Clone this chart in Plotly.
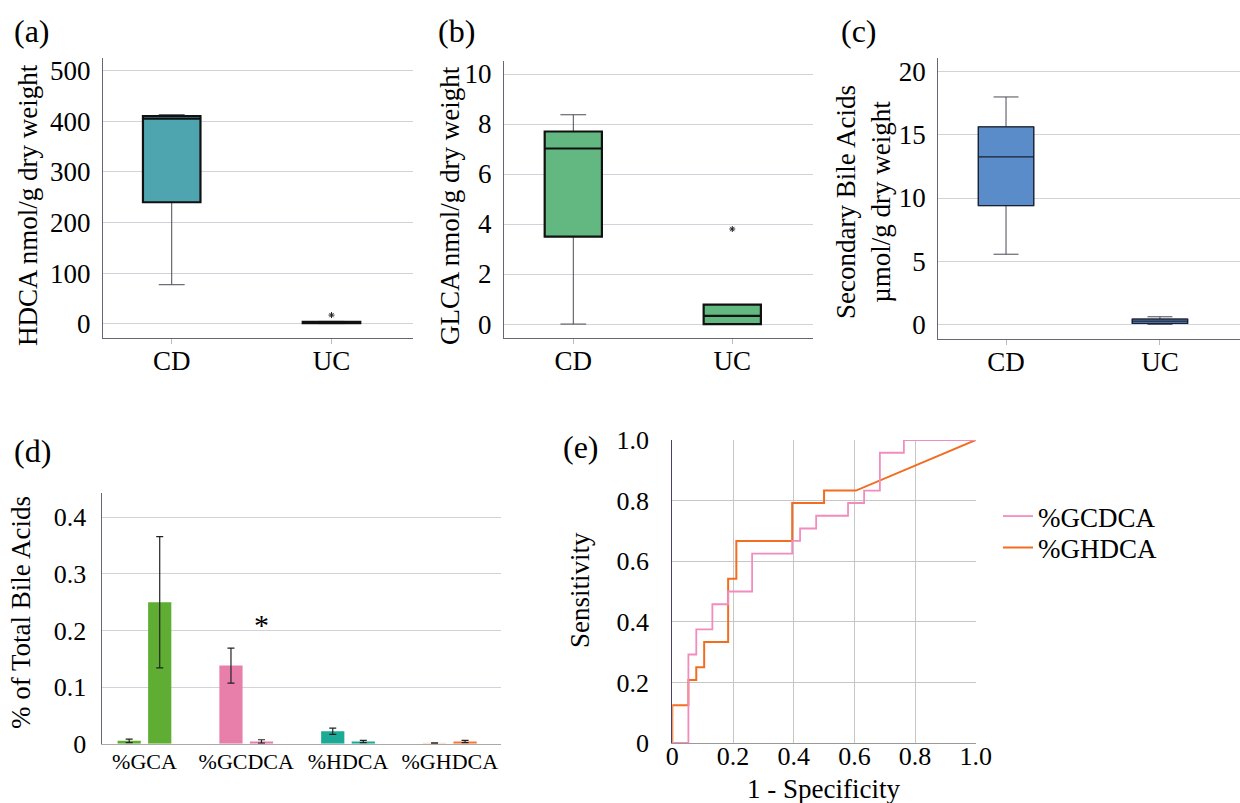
import plotly.graph_objects as go

FONT = "Liberation Serif"
W, H = 1240, 803

groups = ["CD", "UC"]

# (a) HDCA nmol/g dry weight
hdca_q1 = [240, 0.8]
hdca_median = [405, 1.5]
hdca_q3 = [410, 3.5]
hdca_lower = [77, 0.2]
hdca_upper = [413, 4.5]
hdca_outlier_x = ["UC"]
hdca_outlier_y = [17]

# (b) GLCA nmol/g dry weight
glca_q1 = [3.5, 0.0]
glca_median = [7.02, 0.33]
glca_q3 = [7.7, 0.78]
glca_lower = [0.0, 0.0]
glca_upper = [8.37, 0.78]
glca_outlier_x = ["UC"]
glca_outlier_y = [3.8]

# (c) Secondary bile acids µmol/g dry weight
sec_q1 = [9.4, 0.08]
sec_median = [13.25, 0.25]
sec_q3 = [15.63, 0.42]
sec_lower = [5.55, 0.0]
sec_upper = [18.0, 0.6]

# (d) % of total bile acids
bar_categories = ["%GCA", "%GCDCA", "%HDCA", "%GHDCA"]
cd_pct = [0.005, 0.138, 0.022, 0.0008]
cd_err = [0.003, 0.031, 0.0055, 0.0005]
uc_pct = [0.25, 0.004, 0.004, 0.004]
uc_err = [0.116, 0.003, 0.002, 0.002]
cd_colors = ["#5fae33", "#e87fab", "#1aaa96", "#fbd5c0"]
uc_colors = ["#5fae33", "#e87fab", "#1aaa96", "#f47a3a"]

# (e) ROC curves
gcdca_fpr = [0, 0.053, 0.053, 0.079, 0.079, 0.132, 0.132, 0.184, 0.184, 0.263, 0.263,
             0.395, 0.395, 0.421, 0.421, 0.474, 0.474, 0.579, 0.579, 0.632, 0.632,
             0.684, 0.684, 0.763, 0.763, 1.0]
gcdca_tpr = [0, 0, 0.292, 0.292, 0.375, 0.375, 0.458, 0.458, 0.5, 0.5, 0.625,
             0.625, 0.667, 0.667, 0.708, 0.708, 0.75, 0.75, 0.792, 0.792, 0.833,
             0.833, 0.958, 0.958, 1.0, 1.0]
ghdca_fpr = [0, 0, 0.053, 0.053, 0.079, 0.079, 0.105, 0.105, 0.184, 0.184, 0.211,
             0.211, 0.395, 0.395, 0.5, 0.5, 0.605, 1.0]
ghdca_tpr = [0, 0.125, 0.125, 0.208, 0.208, 0.25, 0.25, 0.333, 0.333, 0.542, 0.542,
             0.667, 0.667, 0.792, 0.792, 0.833, 0.833, 1.0]


def px(x):
    return x / W


def py(y):
    return 1 - y / H


AXIS_COL = "#6b6378"
GRID_COL = "#d2d2da"
BOX_W = 0.36

fig = go.Figure()


def add_box(xa, ya, q1, med, q3, lo, hi, fill, outline_w, outline_col):
    # whiskers (thin)
    fig.add_trace(go.Box(
        x=groups, q1=q1, median=med, q3=q3, lowerfence=lo, upperfence=hi,
        width=BOX_W, whiskerwidth=0.45, fillcolor=fill,
        line=dict(color="#4a4a55", width=1), boxpoints=False,
        xaxis=xa, yaxis=ya, showlegend=False, hoverinfo="skip"))
    # box body (thick outline)
    fig.add_trace(go.Box(
        x=groups, q1=q1, median=med, q3=q3, lowerfence=q1, upperfence=q3,
        width=BOX_W, whiskerwidth=0, fillcolor=fill,
        line=dict(color=outline_col, width=outline_w), boxpoints=False,
        xaxis=xa, yaxis=ya, showlegend=False, hoverinfo="skip"))


add_box("x", "y", hdca_q1, hdca_median, hdca_q3, hdca_lower, hdca_upper, "#4ea5b0", 2.2, "#111111")
add_box("x2", "y2", glca_q1, glca_median, glca_q3, glca_lower, glca_upper, "#63b882", 2.2, "#111111")
add_box("x3", "y3", sec_q1, sec_median, sec_q3, sec_lower, sec_upper, "#5a8cca", 1.3, "#1a2030")

for xa, ya, ox, oy in [("x", "y", hdca_outlier_x, hdca_outlier_y),
                       ("x2", "y2", glca_outlier_x, glca_outlier_y)]:
    fig.add_trace(go.Scatter(
        x=ox, y=oy, mode="markers", xaxis=xa, yaxis=ya, showlegend=False,
        marker=dict(symbol="asterisk-open", size=5, color="#222", line=dict(width=1, color="#222")),
        hoverinfo="skip"))

# (d) bars
fig.add_trace(go.Bar(
    x=bar_categories, y=cd_pct, name="CD", marker=dict(color=cd_colors, line=dict(width=0)),
    error_y=dict(type="data", array=cd_err, color="#222", thickness=1.2, width=3.5),
    xaxis="x4", yaxis="y4", showlegend=False))
fig.add_trace(go.Bar(
    x=bar_categories, y=uc_pct, name="UC", marker=dict(color=uc_colors, line=dict(width=0)),
    error_y=dict(type="data", array=uc_err, color="#222", thickness=1.2, width=3.5),
    xaxis="x4", yaxis="y4", showlegend=False))

# (e) ROC
fig.add_trace(go.Scatter(
    x=ghdca_fpr, y=ghdca_tpr, mode="lines", name="%GHDCA", legend="legend2",
    line=dict(color="#f26d21", width=2), xaxis="x5", yaxis="y5"))
fig.add_trace(go.Scatter(
    x=gcdca_fpr, y=gcdca_tpr, mode="lines", name="%GCDCA", legend="legend",
    line=dict(color="#f28cbf", width=1.8), xaxis="x5", yaxis="y5"))

tick_font = dict(family=FONT, size=27, color="black")


def cat_x(domain, rng, anchor):
    return dict(domain=domain, range=rng, anchor=anchor, showline=True, linecolor=AXIS_COL,
                linewidth=1.3, showgrid=False, zeroline=False, ticks="outside", ticklen=5,
                tickcolor="#bbbbbb", tickfont=tick_font, automargin=False,
                ticklabelstandoff=-7)


def val_y(domain, rng, anchor, tickvals, ticktext, size=27, standoff=6):
    return dict(domain=domain, range=rng, anchor=anchor, showline=True, linecolor=AXIS_COL,
                linewidth=1.3, showgrid=True, gridcolor=GRID_COL, gridwidth=1.2, zeroline=False,
                tickvals=tickvals, ticktext=ticktext, ticks="", ticklabelstandoff=standoff,
                tickfont=dict(family=FONT, size=size, color="black"), automargin=False)


legend_font = dict(family=FONT, size=27, color="black")

layout = dict(
    template="none",
    width=W, height=H, margin=dict(l=0, r=0, t=0, b=0, pad=0, autoexpand=False),
    paper_bgcolor="white", plot_bgcolor="white",
    font=dict(family=FONT, color="black"),
    barmode="group", bargap=0.4, bargroupgap=0.24,
    xaxis=cat_x([px(103), px(413)], [-0.43, 1.51], "y"),
    yaxis=val_y([py(338), py(58)], [-28.3, 525], "x", [0, 100, 200, 300, 400, 500],
                ["0", "100", "200", "300", "400", "500"]),
    xaxis2=cat_x([px(504), px(812.7)], [-0.436, 1.506], "y2"),
    yaxis2=val_y([py(338.3), py(61)], [-0.57, 10.52], "x2", [0, 2, 4, 6, 8, 10],
                 ["0", "2", "4", "6", "8", "10"]),
    xaxis3=cat_x([px(938.3), 1.0], [-0.44, 1.52], "y3"),
    yaxis3=val_y([py(339), py(58.3)], [-1.16, 21.06], "x3", [0, 5, 10, 15, 20],
                 ["0", "5", "10", "15", "20"]),
    xaxis4=dict(domain=[px(101.7), px(500.7)], range=[-0.42, 3.5], anchor="y4",
                showline=True, linecolor="#aaaaaa", linewidth=1.3, showgrid=False,
                zeroline=False, ticks="", tickfont=dict(family=FONT, size=22, color="black"),
                ticklabelstandoff=-2, automargin=False),
    yaxis4=val_y([py(743.7), py(492.7)], [0, 0.4435], "x4", [0, 0.1, 0.2, 0.3, 0.4],
                 ["0", "0.1", "0.2", "0.3", "0.4"], size=26, standoff=9),
    xaxis5=dict(domain=[px(672.3), px(975.8)], range=[0, 1], anchor="y5",
                showline=True, linecolor="#999999", linewidth=1.3, showgrid=True,
                gridcolor="#c6c6c6", gridwidth=1.4, zeroline=False, ticks="",
                tickvals=[0, 0.2, 0.4, 0.6, 0.8, 1.0],
                ticktext=["0", "0.2", "0.4", "0.6", "0.8", "1.0"],
                tickfont=dict(family=FONT, size=26, color="black"), ticklabelstandoff=-10,
                automargin=False),
    yaxis5=dict(domain=[py(743), py(440)], range=[0, 1], anchor="x5",
                showline=True, linecolor="#4b3f66", linewidth=1.3, showgrid=True,
                gridcolor="#c6c6c6", gridwidth=1.4, zeroline=False, ticks="",
                tickvals=[0, 0.2, 0.4, 0.6, 0.8, 1.0],
                ticktext=["0", "0.2", "0.4", "0.6", "0.8", "1.0"],
                tickfont=dict(family=FONT, size=26, color="black"), ticklabelstandoff=17,
                automargin=False),
    legend=dict(x=px(998), y=py(492), xanchor="left", yanchor="top", font=legend_font,
                bgcolor="rgba(0,0,0,0)", itemwidth=30),
    legend2=dict(x=px(998), y=py(523.5), xanchor="left", yanchor="top", font=legend_font,
                 bgcolor="rgba(0,0,0,0)", itemwidth=30),
)

ann = []
for label, xx in [("(a)", 12), ("(b)", 436), ("(c)", 839)]:
    ann.append(dict(text=label, x=px(xx), y=py(31), xref="paper", yref="paper",
                    xanchor="left", yanchor="middle", showarrow=False,
                    font=dict(family=FONT, size=32, color="black")))
ann.append(dict(text="(d)", x=px(12), y=py(451), xref="paper", yref="paper",
                xanchor="left", yanchor="middle", showarrow=False,
                font=dict(family=FONT, size=32, color="black")))
ann.append(dict(text="(e)", x=px(561), y=py(447), xref="paper", yref="paper",
                xanchor="left", yanchor="middle", showarrow=False,
                font=dict(family=FONT, size=32, color="black")))

ytitles = [
    ("HDCA nmol/g dry weight", 28, 205),
    ("GLCA nmol/g dry weight", 450, 206),
    ("Secondary Bile Acids<br>µmol/g dry weight", 863, 202),
    ("% of Total Bile Acids", 21, 613),
    ("Sensitivity", 580, 590),
]
for t, xx, yy in ytitles:
    ann.append(dict(text=t, x=px(xx), y=py(yy), xref="paper", yref="paper",
                    xanchor="center", yanchor="middle", textangle=-90, showarrow=False,
                    font=dict(family=FONT, size=27, color="black")))
ann.append(dict(text="1 - Specificity", x=px(823), y=py(789), xref="paper", yref="paper",
                xanchor="center", yanchor="middle", showarrow=False,
                font=dict(family=FONT, size=27, color="black")))
# significance marker in (d)
ann.append(dict(text="*", x=1.15, y=0.21, xref="x4", yref="y4",
                xanchor="center", yanchor="middle", showarrow=False,
                font=dict(family=FONT, size=30, color="black")))

layout["annotations"] = ann
fig.update_layout(**layout)
fig.write_html("out.html")
